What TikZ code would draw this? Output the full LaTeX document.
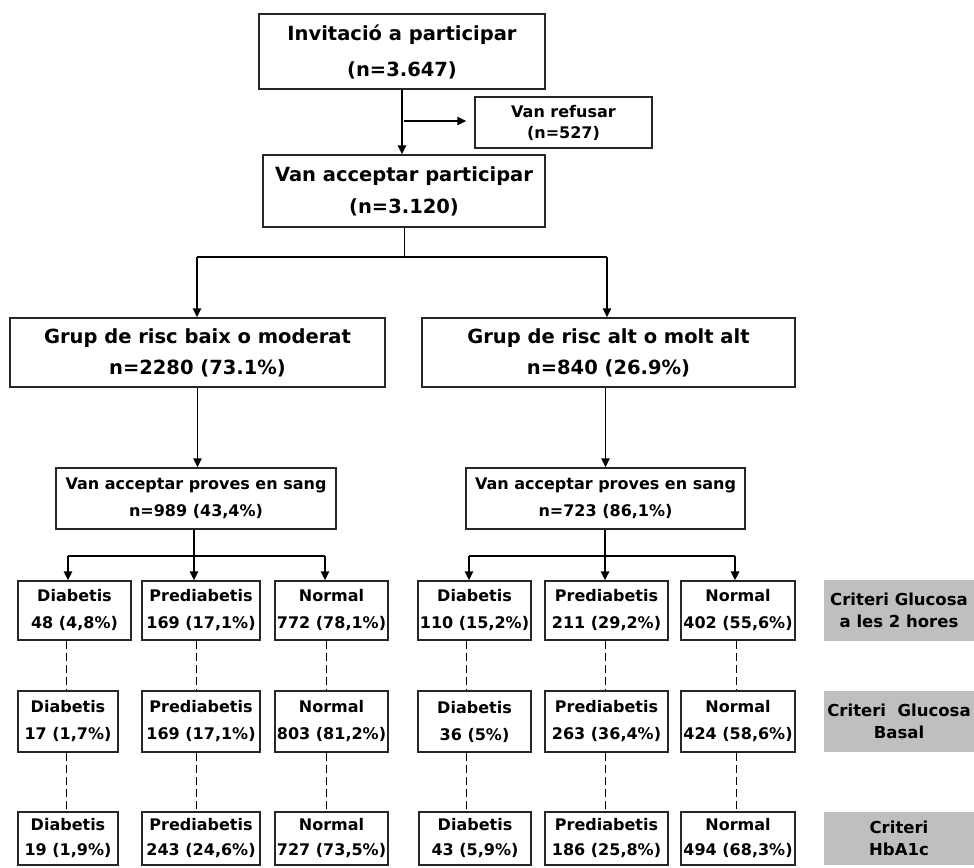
\documentclass[tikz,border=0pt]{standalone}
\usepackage{fontspec}
\setmainfont{DejaVu Sans}
\usetikzlibrary{arrows.meta}

\begin{document}
\begin{tikzpicture}[x=1pt,y=-1pt,
  box/.style={draw=black!85, line width=1.4pt, inner sep=0pt, align=center, fill=white},
  big/.style={font=\bfseries\fontsize{19.5}{#1}\selectfont},
  small/.style={font=\bfseries\fontsize{16}{#1}\selectfont},
  crit/.style={fill=black!25, inner sep=0pt, align=center, minimum width=150,
               font=\bfseries\fontsize{16.5}{22}\selectfont},
  arr/.style={line width=1.5pt, -{Triangle[length=9pt,width=8.5pt]}},
  bar/.style={line width=2.4pt},
  thinline/.style={line width=1pt},
  dashline/.style={line width=1pt, dash pattern=on 8pt off 4pt}
]
\useasboundingbox (0,0) rectangle (974,867);

% top of the flow
\node[box, big=36, minimum width=286, minimum height=75] (inv) at (402,51.5)
  {Invitació a participar\\(n=3.647)};
\node[box, small=21, minimum width=177, minimum height=51] (ref) at (563.5,122.5)
  {Van refusar\\(n=527)};
\node[box, big=32, minimum width=282, minimum height=72] (acc) at (404,191)
  {Van acceptar participar\\(n=3.120)};

% risk groups
\node[box, big=31, minimum width=375, minimum height=69] (g1) at (197.5,352.5)
  {Grup de risc baix o moderat\\n=2280 (73.1\%)};
\node[box, big=31, minimum width=373, minimum height=69] (g2) at (608.5,352.5)
  {Grup de risc alt o molt alt\\n=840 (26.9\%)};

% blood tests
\node[box, small=27, minimum width=280, minimum height=61] (s1) at (196,498.5)
  {Van acceptar proves en sang\\n=989 (43,4\%)};
\node[box, small=27, minimum width=279, minimum height=61] (s2) at (605.5,498.5)
  {Van acceptar proves en sang\\n=723 (86,1\%)};

% row 1: two-hour glucose
\begin{scope}[every node/.style={box, small=27, minimum height=59}]
\node[minimum width=113] (a1) at (74.5,610.5)  {Diabetis\\48 (4,8\%)};
\node[minimum width=118] (b1) at (201,610.5)   {Prediabetis\\169 (17,1\%)};
\node[minimum width=113] (c1) at (331.5,610.5) {Normal\\772 (78,1\%)};
\node[minimum width=113] (d1) at (474.5,610.5) {Diabetis\\110 (15,2\%)};
\node[minimum width=123] (e1) at (606.5,610.5) {Prediabetis\\211 (29,2\%)};
\node[minimum width=114] (f1) at (738,610.5)   {Normal\\402 (55,6\%)};
\end{scope}

% row 2: fasting glucose
\begin{scope}[every node/.style={box, small=27, minimum height=61}]
\node[minimum width=100] (a2) at (68,721.5)    {Diabetis\\17 (1,7\%)};
\node[minimum width=118] (b2) at (201,721.5)   {Prediabetis\\169 (17,1\%)};
\node[minimum width=113] (c2) at (331.5,721.5) {Normal\\803 (81,2\%)};
\node[minimum width=113] (d2) at (474.5,721.5) {Diabetis\\36 (5\%)};
\node[minimum width=123] (e2) at (606.5,721.5) {Prediabetis\\263 (36,4\%)};
\node[minimum width=114] (f2) at (738,721.5)   {Normal\\424 (58,6\%)};
\end{scope}

% row 3: HbA1c
\begin{scope}[every node/.style={box, small=25, minimum height=53}]
\node[minimum width=100] (a3) at (68,838.5)    {Diabetis\\19 (1,9\%)};
\node[minimum width=118] (b3) at (201,838.5)   {Prediabetis\\243 (24,6\%)};
\node[minimum width=113] (c3) at (331.5,838.5) {Normal\\727 (73,5\%)};
\node[minimum width=112] (d3) at (475,838.5)   {Diabetis\\43 (5,9\%)};
\node[minimum width=123] (e3) at (606.5,838.5) {Prediabetis\\186 (25,8\%)};
\node[minimum width=114] (f3) at (738,838.5)   {Normal\\494 (68,3\%)};
\end{scope}

% criteria labels
\node[crit, minimum height=61] (k1) at (899,610.5) {Criteri Glucosa\\a les 2 hores};
\node[crit, minimum height=61] (k2) at (899,721.5) {Criteri\ \ Glucosa\\Basal};
\node[crit, minimum height=53] (k3) at (899,838.5) {Criteri\\HbA1c};

% invitation -> acceptance, with refusals branching off
\draw[arr] (inv.south) -- (inv.south |- acc.north);
\coordinate (rs) at (404,121);
\draw[arr, shorten >=8pt] (rs) -- (rs -| ref.west);

% acceptance -> risk groups
\coordinate (t1) at (197,257);
\coordinate (t2) at (607,257);
\draw[thinline] (acc.south) -- (acc.south |- t1);
\draw[bar] (t1) -- (t2);
\draw[arr] (t1) -- (t1 |- g1.north);
\draw[arr] (t2) -- (t2 |- g2.north);

% risk groups -> blood tests
\draw[arr] (g1.south) -- (g1.south |- s1.north);
\draw[arr] (s2.north |- g2.south) -- (s2.north);

% blood tests -> results
\coordinate (l1) at (68,556);
\coordinate (l2) at (194,556);
\coordinate (l3) at (325,556);
\coordinate (r1) at (469,556);
\coordinate (r2) at (605,556);
\coordinate (r3) at (735,556);
\draw[line width=1.5pt] (s1.south -| l2) -- (l2);
\draw[line width=1.5pt] (s2.south -| r2) -- (r2);
\draw[bar] (l1) -- (l3);
\draw[bar] (r1) -- (r3);
\draw[arr] (l1) -- (l1 |- a1.north);
\draw[arr] (l2) -- (l2 |- b1.north);
\draw[arr] (l3) -- (l3 |- c1.north);
\draw[arr] (r1) -- (r1 |- d1.north);
\draw[arr] (r2) -- (r2 |- e1.north);
\draw[arr] (r3) -- (r3 |- f1.north);

% dashed links between criteria rows
\coordinate (xa) at (66,0);
\coordinate (xb) at (196,0);
\coordinate (xc) at (326,0);
\coordinate (xd) at (466,0);
\coordinate (xe) at (605,0);
\coordinate (xf) at (736,0);
\foreach \c in {a,b,c,d,e,f}{
  \draw[dashline] (\c1.south -| x\c) -- (\c2.north -| x\c);
  \draw[dashline] (\c2.south -| x\c) -- (\c3.north -| x\c);
}
\end{tikzpicture}
\end{document}
